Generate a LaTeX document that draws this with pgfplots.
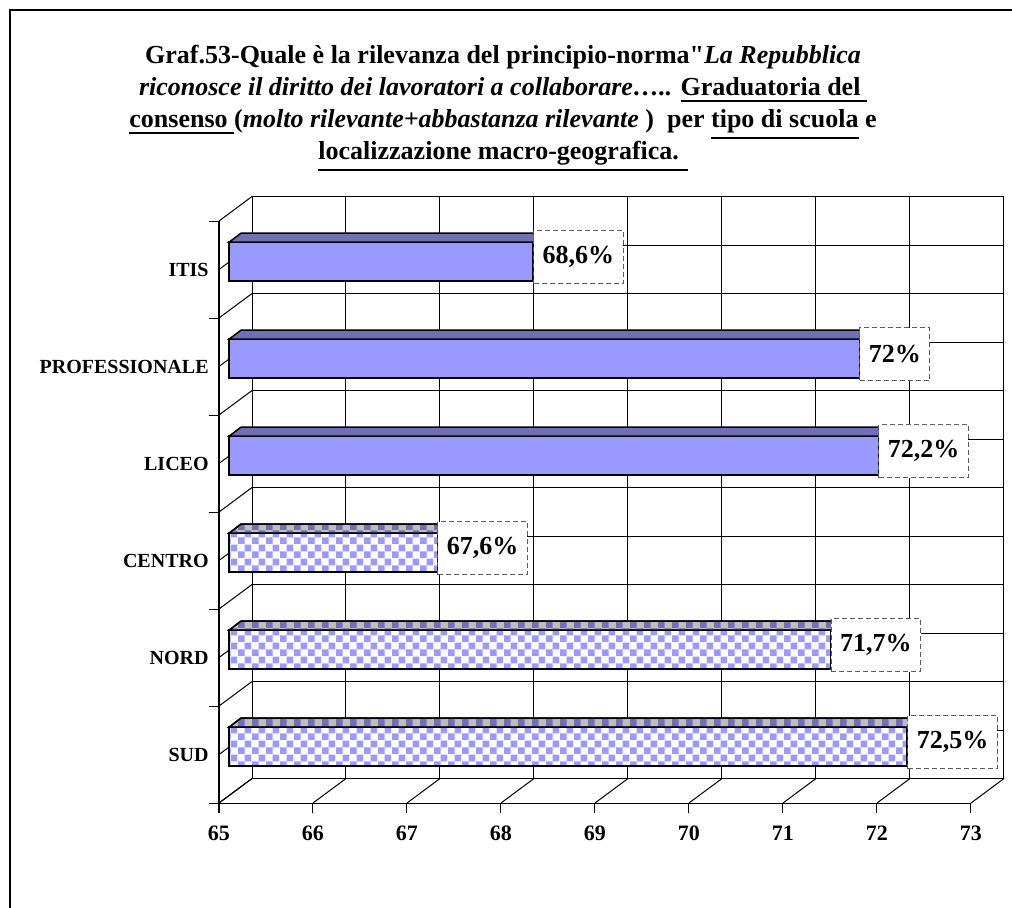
\documentclass[border=0pt]{standalone}
\usepackage{fontspec}
\setmainfont{Liberation Serif}[Ligatures=TeXOff]
\usepackage{pgfplots}
\pgfplotsset{compat=1.18}
\usetikzlibrary{patterns.meta}

\definecolor{barblue}{RGB}{153,153,255}
\definecolor{topblue}{RGB}{112,112,184}
\definecolor{topgray}{RGB}{190,190,190}
\definecolor{boxgray}{RGB}{90,90,90}

\tikzdeclarepattern{
  name=chk,
  type=uncolored,
  bottom left={(0pt,0pt)},
  top right={(7pt,7pt)},
  tile size={(7pt,7pt)},
  code={\fill (0pt,0pt) rectangle (3.5pt,3.5pt); \fill (3.5pt,3.5pt) rectangle (7pt,7pt);}
}

\newcommand{\ul}[1]{\vtop{\hbox{#1}\kern2pt\hrule height 1pt}}

\begin{document}
\begin{tikzpicture}
\useasboundingbox (0pt,0pt) rectangle (506pt,-453.5pt);
\fill[white] (0pt,0pt) rectangle (506pt,-453.5pt);
\draw[line width=1pt] (5pt,-5pt) rectangle (530pt,-480pt);

% title
\node[align=center, inner sep=0pt, anchor=north, font=\bfseries\fontsize{13}{16}\selectfont] at (251.5pt,-22.5pt)
{Graf.53-Quale è la rilevanza del principio-norma"\textit{La Repubblica}\\
\textit{riconosce il diritto dei lavoratori a collaborare…..} \ul{Graduatoria del }\\
\ul{consenso }(\textit{molto rilevante+abbastanza rilevante })~ per \ul{tipo di scuola} e\\
\ul{localizzazione macro-geografica. }};

% back wall
\begin{axis}[at={(126pt,-389.25pt)}, anchor=south west, scale only axis,
  width=376pt, height=291pt, xmin=65, xmax=73, ymin=-0.5, ymax=5.5,
  xtick={65,...,73}, ytick={-0.5,0,...,5.5}, xticklabels={}, yticklabels={},
  major tick length=0pt, grid=major, grid style={black, line width=0.5pt},
  axis line style={line width=0.5pt}]
\addplot[draw=none] coordinates {(65,0)};
\end{axis}

% floor and left wall diagonals
\foreach \k in {0,...,8} \draw[line width=0.5pt] ({(109.5+47*\k)*1pt},-401.5pt) -- ++(16.5pt,12.25pt);
\foreach \j in {0,...,12} \draw[line width=0.5pt] (109.5pt,{(-110.5-24.25*\j)*1pt}) -- ++(16.5pt,12.25pt);
\foreach \j in {0,...,6} \draw[line width=0.5pt] (104.5pt,{(-110.5-48.5*\j)*1pt}) -- ++(5pt,0pt);

% front axes
\begin{axis}[at={(109.5pt,-401.5pt)}, anchor=south west, scale only axis,
  width=376pt, height=291pt, xmin=65, xmax=73, ymin=-0.5, ymax=5.5,
  axis x line*=bottom, axis y line*=left, axis line style={-, line width=0.5pt},
  tick align=outside, major tick length=5pt,
  xtick={65,...,73}, ytick={0,...,5},
  yticklabels={SUD,NORD,CENTRO,LICEO,PROFESSIONALE,ITIS},
  ytick style={draw=none}, xtick style={black, line width=0.5pt},
  /pgf/number format/assume math mode=true,
  xticklabel style={font=\bfseries\fontsize{11}{13}\selectfont, yshift=-3pt},
  yticklabel style={font=\bfseries\fontsize{10}{12}\selectfont, inner sep=0pt}]
\addplot[draw=none] coordinates {(65,0)};
\end{axis}

% bars
\begin{axis}[at={(94pt,-397.5pt)}, anchor=south west, scale only axis,
  width=383.6pt, height=291pt, xmin=65, xmax=73, ymin=-0.5, ymax=5.5,
  hide axis, clip=false, /pgf/number format/assume math mode=true]
% ITIS
\addplot[fill=barblue, draw=black, line width=0.75pt] coordinates {(65.43,4.799) (68.6,4.799) (68.6,5.201) (65.43,5.201)} --cycle;
\addplot[fill=topblue, draw=black, line width=0.75pt] coordinates {(65.43,5.201) (68.6,5.201) (68.725,5.294) (65.555,5.294)} --cycle;
% PROFESSIONALE
\addplot[fill=barblue, draw=black, line width=0.75pt] coordinates {(65.43,3.799) (72,3.799) (72,4.201) (65.43,4.201)} --cycle;
\addplot[fill=topblue, draw=black, line width=0.75pt] coordinates {(65.43,4.201) (72,4.201) (72.125,4.294) (65.555,4.294)} --cycle;
% LICEO
\addplot[fill=barblue, draw=black, line width=0.75pt] coordinates {(65.43,2.799) (72.2,2.799) (72.2,3.201) (65.43,3.201)} --cycle;
\addplot[fill=topblue, draw=black, line width=0.75pt] coordinates {(65.43,3.201) (72.2,3.201) (72.325,3.294) (65.555,3.294)} --cycle;
% CENTRO
\addplot[preaction={fill=white}, pattern=chk, pattern color=barblue, draw=black, line width=0.75pt] coordinates {(65.43,1.799) (67.6,1.799) (67.6,2.201) (65.43,2.201)} --cycle;
\addplot[preaction={fill=topgray}, pattern=chk, pattern color=topblue, draw=black, line width=0.75pt] coordinates {(65.43,2.201) (67.6,2.201) (67.725,2.294) (65.555,2.294)} --cycle;
% NORD
\addplot[preaction={fill=white}, pattern=chk, pattern color=barblue, draw=black, line width=0.75pt] coordinates {(65.43,0.799) (71.7,0.799) (71.7,1.201) (65.43,1.201)} --cycle;
\addplot[preaction={fill=topgray}, pattern=chk, pattern color=topblue, draw=black, line width=0.75pt] coordinates {(65.43,1.201) (71.7,1.201) (71.825,1.294) (65.555,1.294)} --cycle;
% SUD
\addplot[preaction={fill=white}, pattern=chk, pattern color=barblue, draw=black, line width=0.75pt] coordinates {(65.43,-0.201) (72.5,-0.201) (72.5,0.201) (65.43,0.201)} --cycle;
\addplot[preaction={fill=topgray}, pattern=chk, pattern color=topblue, draw=black, line width=0.75pt] coordinates {(65.43,0.201) (72.5,0.201) (72.625,0.294) (65.555,0.294)} --cycle;
% labels
\addplot[draw=none, mark=none, point meta=x,
  nodes near coords={\pgfmathprintnumber[fixed, precision=1, use comma]{\pgfplotspointmeta}\%},
  every node near coord/.style={anchor=west, yshift=2.25pt, draw=boxgray, dash pattern=on 2.5pt off 1.5pt,
    line width=0.5pt, fill=white, font=\bfseries\fontsize{13}{15}\selectfont,
    inner xsep=4.5pt, inner ysep=0pt, minimum height=26.5pt}]
  coordinates {(68.6,5) (72,4) (72.2,3) (67.6,2) (71.7,1) (72.5,0)};
\end{axis}
\end{tikzpicture}
\end{document}
